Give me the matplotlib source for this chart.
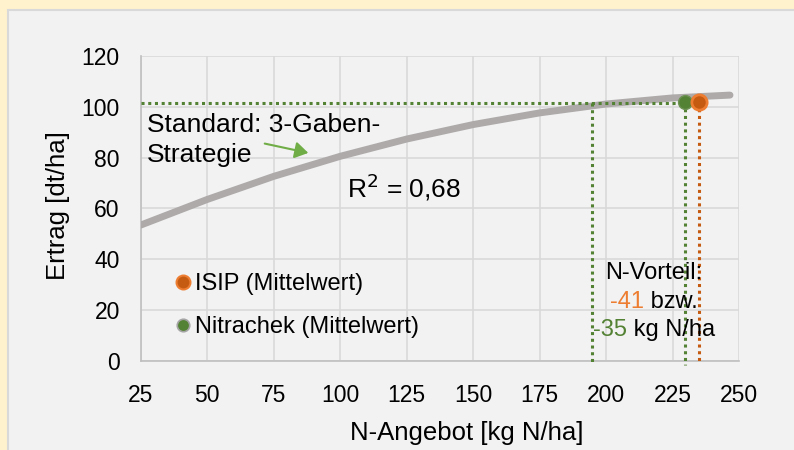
import matplotlib
matplotlib.use("Agg")
import matplotlib.pyplot as plt
from matplotlib.lines import Line2D
from matplotlib.patches import Rectangle, FancyArrowPatch

plt.rcParams['font.family'] = ['Liberation Sans', 'DejaVu Sans']

# Trend curve (N supply vs. yield)
curve_n = [25, 50, 75, 100, 125, 150, 175, 200, 225, 246.5]
curve_yield = [53.4, 63.5, 72.6, 80.5, 87.3, 93.0, 97.6, 101.1, 103.5, 104.6]

# Mean points of the two methods
isip_n, isip_yield = 235, 102
nitrachek_n, nitrachek_yield = 229.5, 102

# Reference level of the standard strategy
standard_n, standard_yield = 194.5, 101.4

x_ticks = [25, 50, 75, 100, 125, 150, 175, 200, 225, 250]
y_ticks = [0, 20, 40, 60, 80, 100, 120]

W, H = 794, 450
fig = plt.figure(figsize=(W / 100, H / 100), dpi=100)
fig.patch.set_facecolor('#FFF2CC')

# inner light-grey panel
panel = Rectangle((8 / W, -0.01), 1, 1 - 10 / H + 0.01, transform=fig.transFigure,
                  facecolor='#F2F2F2', edgecolor='#D9D9D9', linewidth=1.5, zorder=-10)
fig.patches.append(panel)

L, R, T, B = 140.7, 739.3, 56, 360.7
ax = fig.add_axes([L / W, 1 - B / H, (R - L) / W, (B - T) / H])
ax.set_zorder(1)
ax.set_facecolor('#F2F2F2')
ax.set_xlim(25, 250)
ax.set_ylim(0, 120)
ax.set_xticks(x_ticks)
ax.set_yticks(y_ticks)
ax.grid(True, color='#D9D9D9', linewidth=1.2)
ax.set_axisbelow(True)
for s in ['top', 'right']:
    ax.spines[s].set_visible(False)
for s in ['left', 'bottom']:
    ax.spines[s].set_color('#BFBFBF')
    ax.spines[s].set_linewidth(1.2)
ax.tick_params(axis='both', length=0, labelsize=16.5)
ax.tick_params(axis='y', pad=15)
ax.tick_params(axis='x', pad=17)

fs_small = 17
fs_big = 19
green = '#548235'
orange = '#C55A11'

# trend line
ax.plot(curve_n, curve_yield, color='#AEAAAA', linewidth=5,
        solid_capstyle='round', solid_joinstyle='round', zorder=3)

# dotted guide lines
dot = (0, (1, 1.2))
ax.plot([25, isip_n - 1], [standard_yield, standard_yield], color=green,
        linestyle=dot, linewidth=2.2, zorder=4)
ax.plot([standard_n, standard_n], [standard_yield, -1.5], color=green,
        linestyle=dot, linewidth=2.2, zorder=4, clip_on=False)
ax.plot([nitrachek_n, nitrachek_n], [nitrachek_yield, -1.5], color=green,
        linestyle=dot, linewidth=2.2, zorder=4, clip_on=False)
ax.plot([isip_n, isip_n], [isip_yield, 0], color=orange,
        linestyle=dot, linewidth=2.2, zorder=4)

# mean points
ax.plot([nitrachek_n], [nitrachek_yield], 'o', color=green, markersize=10,
        markeredgecolor='#6E9254', markeredgewidth=1, zorder=5)
ax.plot([isip_n], [isip_yield], 'o', color=orange, markersize=11,
        markeredgecolor='#ED7D31', markeredgewidth=2, zorder=6)

# legend
handles = [
    Line2D([], [], marker='o', linestyle='none', markersize=10,
           markerfacecolor=orange, markeredgecolor='#ED7D31', markeredgewidth=1.5),
    Line2D([], [], marker='o', linestyle='none', markersize=9,
           markerfacecolor=green, markeredgecolor='#A5A5A5', markeredgewidth=1.2),
]
ax.legend(handles, ['ISIP (Mittelwert)', 'Nitrachek (Mittelwert)'],
          loc='upper left', bbox_to_anchor=((177 - L) / (R - L), (B - 273) / (B - T)),
          frameon=False, fontsize=fs_small, handlelength=0.5, handletextpad=0.25,
          labelspacing=0.88, borderpad=0, borderaxespad=0)


def px(x, y):
    """figure-pixel position (from top-left) to figure fraction"""
    return x / W, 1 - y / H


# annotations
fig.text(*px(147, 125), 'Standard: 3-Gaben-', fontsize=fs_big, va='center', ha='left',
         zorder=5)
fig.text(*px(147, 155), 'Strategie', fontsize=fs_big, va='center', ha='left', zorder=5)
fig.patches.append(FancyArrowPatch(px(262, 143), px(311, 153.5), transform=fig.transFigure,
                                   arrowstyle='-|>,head_length=8,head_width=5',
                                   color='#70AD47', linewidth=1.5, mutation_scale=1,
                                   zorder=5))
fig.text(*px(347, 187), 'R$^2$ = 0,68', fontsize=fs_big, va='center', ha='left', zorder=5)

fig.canvas.draw()
renderer = fig.canvas.get_renderer()


def colored_line(xc, yc, parts):
    texts = [fig.text(0, 0, s, color=c, fontsize=fs_small, va='center', ha='left',
                      zorder=5)
             for s, c in parts]
    widths = [t.get_window_extent(renderer).width for t in texts]
    x = xc - sum(widths) / 2
    for t, w in zip(texts, widths):
        t.set_position(px(x, yc))
        x += w


colored_line(654, 273, [('N-Vorteil:', 'black')])
colored_line(654, 302, [('-41', '#ED7D31'), (' bzw.', 'black')])
colored_line(654, 330, [('-35', '#548235'), (' kg N/ha', 'black')])

# axis titles
fig.text(*px(58, 206), 'Ertrag [dt/ha]', fontsize=18.5, rotation=90,
         va='center', ha='center', zorder=5)
fig.text(*px(467, 433), 'N-Angebot [kg N/ha]', fontsize=18.5, va='center', ha='center',
         zorder=5)

fig.savefig('out.png', dpi=100, facecolor=fig.get_facecolor())
